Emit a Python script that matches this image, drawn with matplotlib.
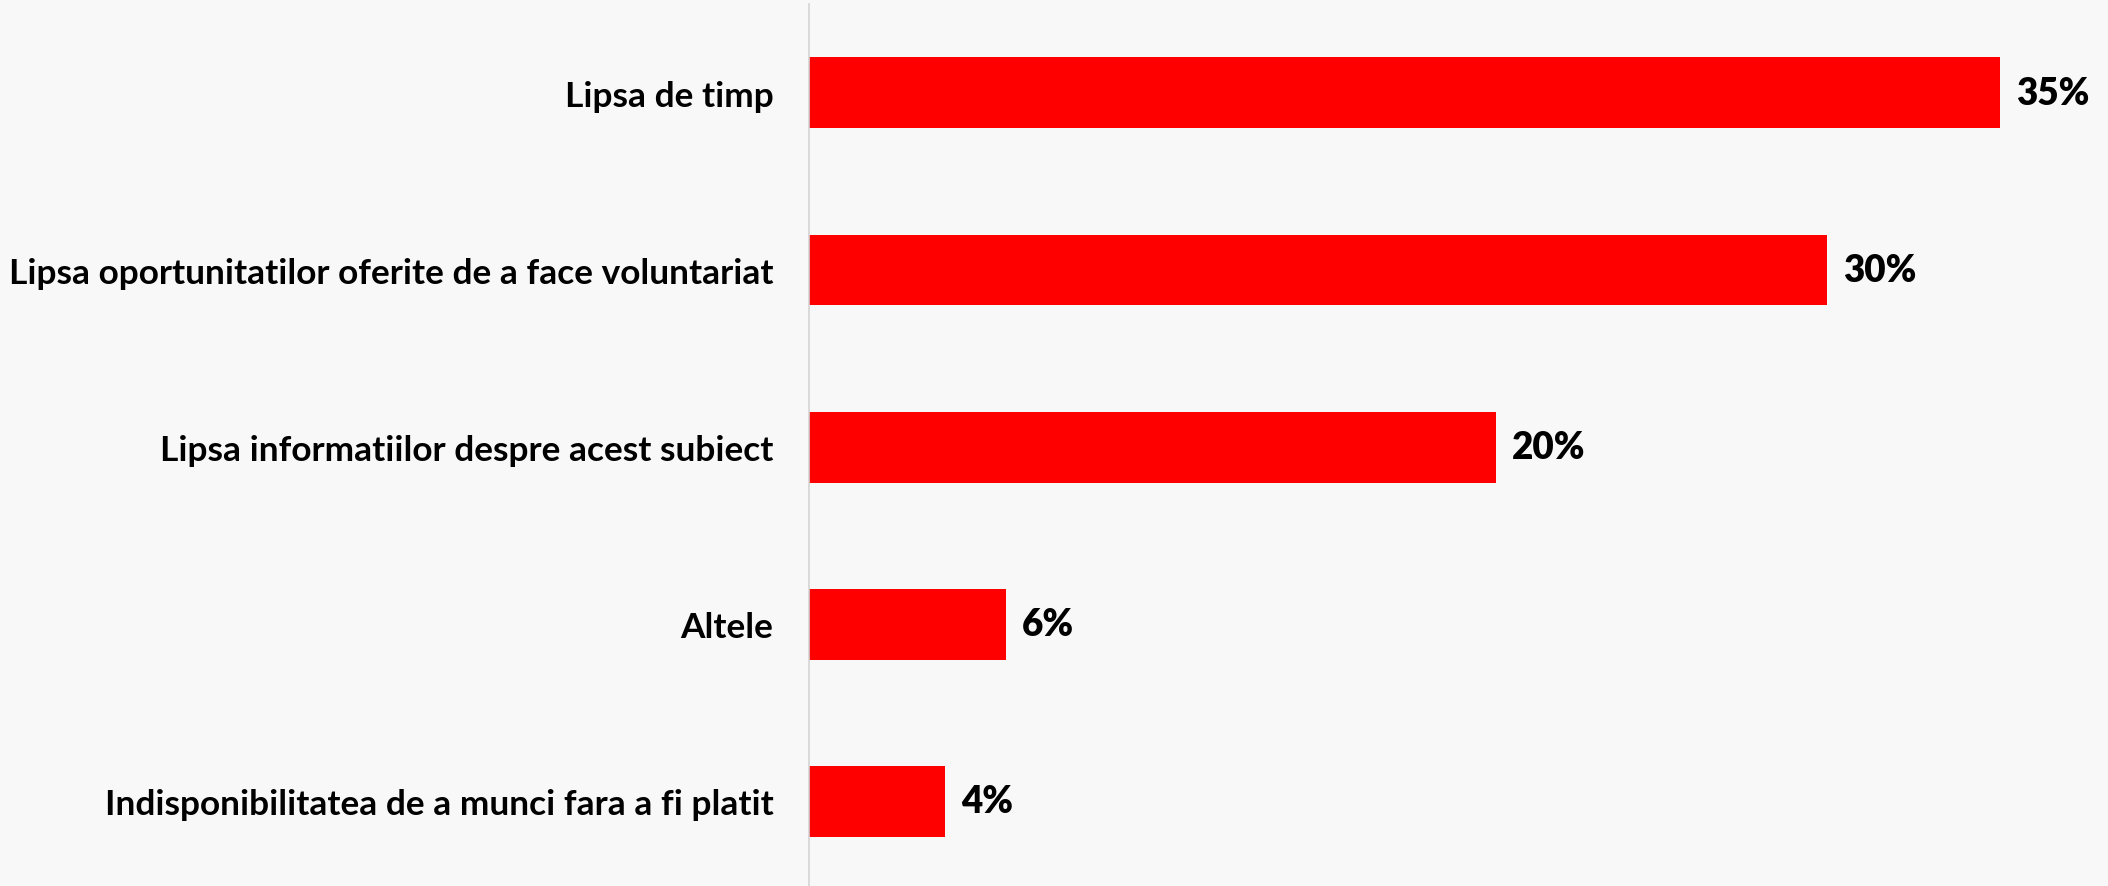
import matplotlib
matplotlib.use("Agg")
import matplotlib.pyplot as plt

categories = [
    "Lipsa de timp",
    "Lipsa oportunitatilor oferite de a face voluntariat",
    "Lipsa informatiilor despre acest subiect",
    "Altele",
    "Indisponibilitatea de a munci fara a fi platit",
]
values = [35.0, 29.9, 20.2, 5.8, 4.0]
value_labels = ["35%", "30%", "20%", "6%", "4%"]

BG = "#F8F8F8"
RED = "#FF0000"

W, H, DPI = 2108, 887, 100
fig = plt.figure(figsize=(W / DPI, H / DPI), dpi=DPI, facecolor=BG)
top_px = 5.2
bottom_px = 891.0
ax = fig.add_axes([808.5 / W, (H - bottom_px) / H, 1294 / W, (bottom_px - top_px) / H])
ax.set_facecolor(BG)

ypos = list(range(len(categories)))
ax.barh(ypos, values, height=0.4, color=RED, edgecolor="none")
ax.set_xlim(0, 38)
ax.set_ylim(len(categories) - 0.5, -0.5)

for s in ["top", "right", "bottom"]:
    ax.spines[s].set_visible(False)
ax.spines["left"].set_color("#D4D4D4")
ax.spines["left"].set_linewidth(1.2)

ax.set_xticks([])
ax.set_yticks(ypos)
ax.set_yticklabels(categories, fontfamily="Lato", fontweight="bold", fontsize=25.4, color="black")
ax.tick_params(axis="y", length=0, pad=35 * 72 / DPI)

for y, v, lab in zip(ypos, values, value_labels):
    ax.annotate(lab, xy=(v, y), xytext=(16 * 72 / DPI, 0), textcoords="offset points",
                ha="left", va="center", fontfamily="Lato", fontweight="heavy",
                fontsize=26.5, color="black")

fig.savefig("out.png", dpi=DPI, facecolor=BG)
